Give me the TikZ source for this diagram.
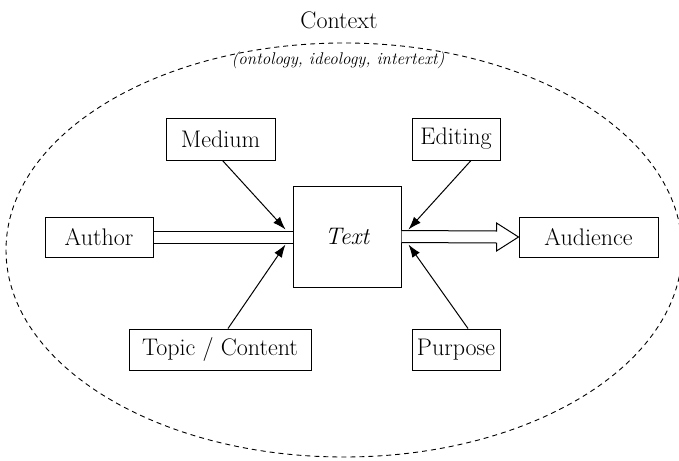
\documentclass[tikz,border=0pt]{standalone}
\usetikzlibrary{arrows.meta,calc}
\begin{document}
\begin{tikzpicture}[x=1pt,y=-1pt,
  box/.style={draw,line width=1pt,inner sep=0pt,font=\fontsize{24}{28}\selectfont},
  feed/.style={line width=1pt,-{Latex[length=13pt,width=9pt]}}]
\useasboundingbox (0,0) rectangle (679,460);
\draw[dash pattern=on 5pt off 4pt,line width=0.9pt] (344,250) ellipse [x radius=338, y radius=207];
\node[font=\fontsize{24}{28}\selectfont] (ctx) at (339,20) {Context};
\node[font=\fontsize{17}{20}\selectfont\itshape] (sub) at (338,60) {(ontology, ideology, intertext)};
\node[box,minimum width=109pt,minimum height=42pt] (med) at (220.5,139) {Medium};
\node[box,minimum width=88pt,minimum height=42pt] (edi) at (456,139) {Editing};
\node[box,minimum width=108pt,minimum height=40pt] (aut) at (99,237) {Author};
\node[box,minimum width=108pt,minimum height=101pt,font=\fontsize{24}{28}\selectfont\itshape] (txt) at (347,236.5) {Text};
\node[box,minimum width=139pt,minimum height=40pt] (aud) at (588.5,237) {Audience};
\node[box,minimum width=182pt,minimum height=41pt] (top) at (220,349.5) {Topic / Content};
\node[box,minimum width=88pt,minimum height=41pt] (pur) at (456,349.5) {Purpose};
% hollow band author -> text
\draw[line width=1pt,double distance=11pt] (aut.east) -- (aut.east -| txt.west);
% hollow arrow text -> audience
\draw[line width=1pt,fill=white]
  ($(txt.east)+(0,-6)$) -- ($(aud.west)+(-22,-6)$) -- ($(aud.west)+(-22,-14)$) -- (aud.west)
  -- ($(aud.west)+(-22,14)$) -- ($(aud.west)+(-22,6)$) -- ($(txt.east)+(0,6)$);
% feeding arrows
\draw[feed] ($(med.south)+(2,0)$) -- ($(txt.west)+(-7,-7)$);
\draw[feed] ($(top.north)+(8,0)$) -- ($(txt.west)+(-7,8)$);
\draw[feed] ($(edi.south)+(15,0)$) -- ($(txt.east)+(7,-7)$);
\draw[feed] ($(pur.north)+(12,0)$) -- ($(txt.east)+(7,8)$);
\end{tikzpicture}
\end{document}
